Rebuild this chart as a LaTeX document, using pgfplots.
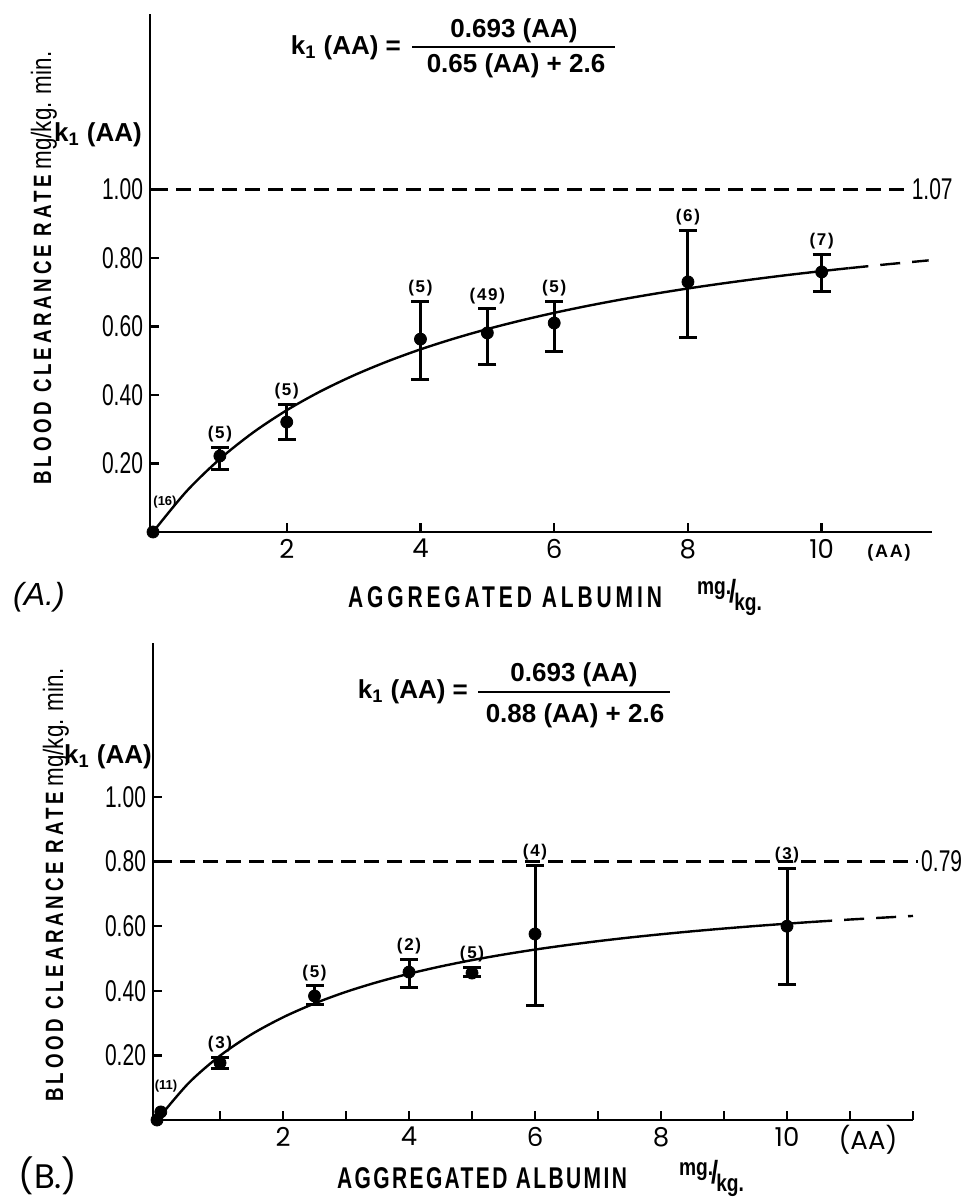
\documentclass[border=0pt]{standalone}
\usepackage{fontspec}
\setmainfont{Liberation Sans}
\newfontfamily\eqf{Liberation Sans}
\newfontfamily\ltf{Liberation Sans}[FakeStretch=0.7]
\newfontfamily\geof{Poppins}
\newfontfamily\xla{Liberation Sans}[FakeStretch=0.7,LetterSpace=13]
\newfontfamily\xlb{Liberation Sans}[FakeStretch=0.7,LetterSpace=8]
\newfontfamily\ylf{Liberation Sans}[FakeStretch=0.75,LetterSpace=15]
\newfontfamily\cntf{Liberation Sans}[LetterSpace=10]
\newfontfamily\unitf{Liberation Sans}[FakeStretch=0.8]
\usepackage{pgfplots}
\usepackage{pgfplotstable}
\pgfplotsset{compat=1.18}
\newcommand\fs[1]{\fontsize{#1}{#1}\selectfont}

% panel A: dose, mean, +err, -err, n
\pgfplotstableread{
x y ep em n
1 0.222 0.026 0.041 (5)
2 0.321 0.050 0.052 (5)
4 0.563 0.111 0.119 (5)
5 0.581 0.070 0.093 (49)
6 0.610 0.064 0.084 (5)
8 0.730 0.149 0.161 (6)
10 0.759 0.050 0.058 (7)
}\dataA

% panel B
\pgfplotstableread{
x y ep em n
1 0.177 0.018 0.016 (3)
2.5 0.384 0.031 0.025 (5)
4 0.458 0.040 0.049 (2)
5 0.455 0.016 0.012 (5)
6 0.576 0.213 0.220 (4)
10 0.600 0.180 0.179 (3)
}\dataB

\pgfplotsset{
  panel/.style={
    scale only axis, clip=false,
    axis lines*=left,
    axis line style={line width=1.4pt},
    every tick/.style={line width=1.2pt, black},
    major tick length=4.5pt, minor tick length=4.5pt,
    ymin=0,
    ytick={0.2,0.4,0.6,0.8,1}, yticklabels={0.20,0.40,0.60,0.80,1.00},
    yticklabel style={font=\ltf\fs{15}},
    xtick={2,4,6,8,10}, xticklabels={2,4,6,8,10},
    xticklabel style={font=\geof\fs{13}},
  },
  pts/.style={only marks, mark=*, mark size=3pt, black,
    error bars/.cd, y dir=both, y explicit,
    error bar style={line width=1.5pt, black},
    error mark=-,
    error mark options={line width=1.5pt, mark size=4.5pt, rotate=90, black}},
  counts/.style={draw=none, mark=none, nodes near coords,
    point meta=explicit symbolic,
    every node near coord/.append style={font=\cntf\bfseries\fs{8.5}, anchor=south, inner sep=2.5pt}},
  fit/.style={black, line width=1.2pt, no marks, smooth},
}

\begin{document}
\begin{tikzpicture}
\path[use as bounding box] (0,0) rectangle (485pt,600pt);

% ---------- (A.)
\begin{axis}[panel, at={(75pt,334pt)}, anchor=south west,
  width=391pt, height=259pt,
  xmin=-0.045, xmax=11.65, ymax=1.512]
\addplot[black, line width=1.2pt, dash pattern=on 7.5pt off 4pt, no marks]
  coordinates {(0,1) (11.3,1)}
  node[pos=1, anchor=west, inner sep=1pt, font=\ltf\fs{15}] {1.07};
\addplot[fit] coordinates {
 (0,0) (0.5,0.1185) (1,0.2132) (1.5,0.2908) (2,0.3554) (2.5,0.4101)
 (3,0.4569) (3.5,0.4975) (4,0.5331) (4.5,0.5644) (5,0.5923) (5.5,0.6172)
 (6,0.6397) (6.5,0.6600) (7,0.6785) (7.5,0.6953) (8,0.7108) (8.5,0.7250)
 (9,0.7381) (9.5,0.7503) (10,0.7615) (10.4,0.7700)};
\addplot[black, line width=1.2pt, no marks, dash pattern=on 10pt off 6pt]
  coordinates {(10.4,0.7700) (11,0.7818) (11.6,0.7928)};
\addplot[pts] table[x=x, y=y, y error plus=ep, y error minus=em] {\dataA};
\addplot[only marks, mark=*, mark size=3pt, black] coordinates {(0,0)};
\addplot[counts] table[x=x, y expr=\thisrow{y}+\thisrow{ep}, meta=n] {\dataA};
\end{axis}

% ---------- (B.)
\begin{axis}[panel, at={(76.5pt,40pt)}, anchor=south west,
  width=380pt, height=238.5pt,
  xmin=-0.064, xmax=12, ymax=1.477,
  minor xtick={1,3,5,7,9,11,12}]
\addplot[black, line width=1.2pt, dash pattern=on 7.5pt off 4pt, no marks]
  coordinates {(0,0.8) (12.08,0.8)}
  node[pos=1, anchor=west, inner sep=1pt, font=\ltf\fs{15}] {0.79};
\addplot[fit] coordinates {
 (0,0) (0.5,0.1140) (1,0.1991) (1.5,0.2652) (2,0.3179) (2.5,0.3609)
 (3,0.3968) (3.5,0.4270) (4,0.4529) (4.5,0.4754) (5,0.4950) (5.5,0.5123)
 (6,0.5277) (6.5,0.5414) (7,0.5538) (7.5,0.5650) (8,0.5751) (8.5,0.5844)
 (9,0.5929) (9.5,0.6007) (10,0.6079) (10.4,0.6133)};
\addplot[black, line width=1.2pt, no marks, dash pattern=on 10pt off 6pt]
  coordinates {(10.4,0.6133) (11,0.6208) (12,0.6319)};
\addplot[pts] table[x=x, y=y, y error plus=ep, y error minus=em] {\dataB};
\addplot[only marks, mark=*, mark size=3pt, black] coordinates {(0,0) (0.06,0.025)};
\addplot[counts] table[x=x, y expr=\thisrow{y}+\thisrow{ep}, meta=n] {\dataB};
\end{axis}

% ---------- texts, in reference pixel units
\begin{scope}[shift={(0pt,600pt)}, x=0.5pt, y=-0.5pt]
% panel A
\node[anchor=east, font=\eqf\bfseries\fs{13}] at (408,48) {k\textsubscript{1} (AA) =};
\draw[line width=1.35pt] (412,47) -- (615,47);
\node[font=\eqf\bfseries\fs{13}] at (514,31) {0.693 (AA)};
\node[font=\eqf\bfseries\fs{13}] at (516,66) {0.65 (AA) + 2.6};
\node[font=\eqf\bfseries\fs{13}] at (98,135) {k\textsubscript{1} (AA)};
\node[rotate=90] at (44,268) {{\ylf\bfseries\fs{12.5}BLOOD CLEARANCE RATE}\ {\unitf\fs{14}mg/kg. min.}};
\node[font=\eqf\bfseries\fs{6.5}] at (165,502) {(16)};
\node[font=\cntf\bfseries\fs{9}] at (889,553) {(AA)};
\node[font=\xla\bfseries\fs{15}] at (505,597) {AGGREGATED ALBUMIN};
\node[anchor=west, font=\unitf\bfseries\fs{12}] at (690,597)
  {\raisebox{4pt}{mg.}\kern-1pt{\fs{16}/}\kern-1pt\raisebox{-4pt}{kg.}};
\node[font=\itshape\fs{16}] at (39,597) {(A.)};
% panel B
\node[anchor=east, font=\eqf\bfseries\fs{13}] at (475,692) {k\textsubscript{1} (AA) =};
\draw[line width=1.35pt] (478,692) -- (670,692);
\node[font=\eqf\bfseries\fs{13}] at (574,675) {0.693 (AA)};
\node[font=\eqf\bfseries\fs{13}] at (575,716) {0.88 (AA) + 2.6};
\node[font=\eqf\bfseries\fs{13}] at (108,757) {k\textsubscript{1} (AA)};
\node[rotate=90] at (56,885) {{\ylf\bfseries\fs{12.5}BLOOD CLEARANCE RATE}\ {\unitf\fs{14}mg/kg. min.}};
\node[font=\eqf\bfseries\fs{6.5}] at (166,1086) {(11)};
\node[font=\geof\fs{13}] at (868,1140) {(AA)};
\node[font=\xlb\bfseries\fs{15}] at (482,1178) {AGGREGATED ALBUMIN};
\node[anchor=west, font=\unitf\bfseries\fs{12}] at (672,1178)
  {\raisebox{4pt}{mg.}\kern-1pt{\fs{16}/}\kern-1pt\raisebox{-4pt}{kg.}};
\node[font=\geof\fs{17}] at (48,1176) {(B.)};
\end{scope}
\end{tikzpicture}
\end{document}
